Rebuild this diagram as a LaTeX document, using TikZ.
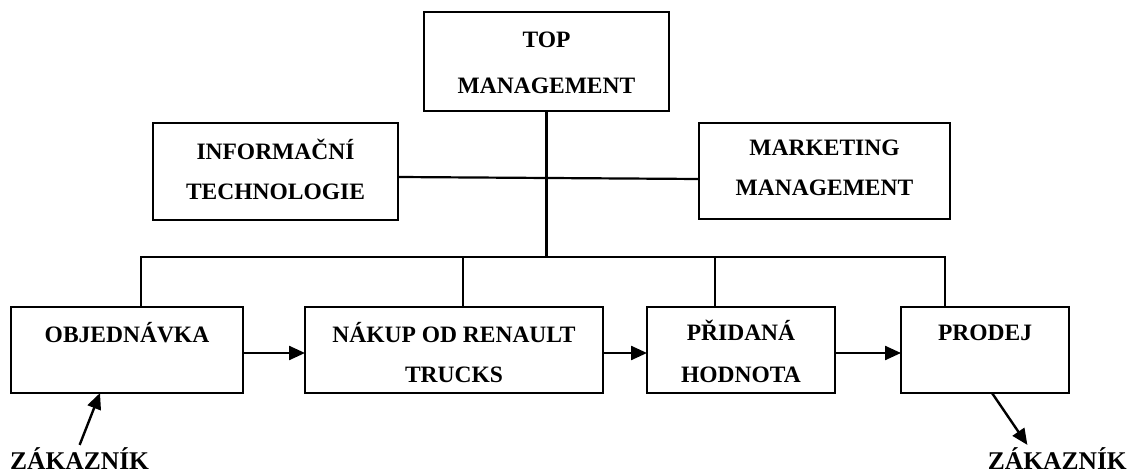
\documentclass[tikz,border=0pt]{standalone}
\usepackage{fontspec}
\setmainfont{Liberation Serif}
\usetikzlibrary{arrows.meta,calc}

\begin{document}
\begin{tikzpicture}[x=1pt,y=-1pt,
  box/.style={draw,line width=2.4pt,inner sep=0pt,outer sep=0pt},
  txt/.style={anchor=base,inner sep=0pt,font=\bfseries\fontsize{23.5}{23.5}\selectfont},
  cust/.style={inner sep=0pt,font=\bfseries\fontsize{25.5}{25.5}\selectfont},
  link/.style={line width=2.2pt},
  arr/.style={line width=2.4pt,-{Triangle[length=16pt,width=14pt]}}]
\useasboundingbox (0,0) rectangle (1128,473);

% management level
\node[box,minimum width=245pt,minimum height=99pt] (top) at (546.5,61.5) {};
\node[box,minimum width=245pt,minimum height=97pt] (it)  at (275.5,171.5) {};
\node[box,minimum width=251pt,minimum height=96pt] (mkt) at (824.5,171) {};

\node[txt] (topa) at ($(top.north)+(0,36)$) {TOP};
\node[txt] (topb) at ($(top.north)+(0,82)$) {MANAGEMENT};
\node[txt] (ita)  at ($(it.north)+(0,37)$) {INFORMAČNÍ};
\node[txt] (itb)  at ($(it.north)+(0,77)$) {TECHNOLOGIE};
\node[txt] (mkta) at ($(mkt.north)+(0,33)$) {MARKETING};
\node[txt] (mktb) at ($(mkt.north)+(0,73)$) {MANAGEMENT};

% process chain
\node[box,minimum width=232pt,minimum height=86pt] (obj)  at (127,350) {};
\node[box,minimum width=298pt,minimum height=86pt] (nak)  at (454,350) {};
\node[box,minimum width=188pt,minimum height=86pt] (prid) at (741,350) {};
\node[box,minimum width=168pt,minimum height=86pt] (prod) at (985,350) {};

\node[txt] (obja)  at ($(obj.north)+(0,35)$) {OBJEDNÁVKA};
\node[txt] (naka)  at ($(nak.north)+(0,35)$) {NÁKUP OD RENAULT};
\node[txt] (nakb)  at ($(nak.north)+(0,75)$) {TRUCKS};
\node[txt] (prida) at ($(prid.north)+(0,34)$) {PŘIDANÁ};
\node[txt] (pridb) at ($(prid.north)+(0,75)$) {HODNOTA};
\node[txt] (proda) at ($(prod.north)+(0,34)$) {PRODEJ};

% customers
\node[cust,anchor=base west] (zl) at (10,469) {ZÁKAZNÍK};
\node[cust,anchor=base east] (zr) at (1127,469) {ZÁKAZNÍK};

% tree connectors
\coordinate (bus) at (547,257);
\coordinate (dobj)  at ([xshift=14pt]obj.north);
\coordinate (dnak)  at ([xshift=9pt]nak.north);
\coordinate (dprid) at ([xshift=-26pt]prid.north);
\coordinate (dprod) at ([xshift=-40pt]prod.north);

\draw[link] (top.south) -- (top.south |- bus);
\draw[link] ([yshift=-5.5pt]it.east) -- ([yshift=-8pt]mkt.west);
\draw[link] (dobj) -- (dobj |- bus) -- (dprod |- bus) -- (dprod);
\draw[link] (dnak) -- (dnak |- bus);
\draw[link] (dprid) -- (dprid |- bus);

% flow arrows
\draw[arr] ([yshift=-3pt]obj.east) -- ([yshift=-3pt]nak.west);
\draw[arr] ([yshift=-3pt]nak.east) -- ([yshift=-3pt]prid.west);
\draw[arr] ([yshift=-3pt]prid.east) -- ([yshift=-3pt]prod.west);
\draw[arr] ([yshift=2pt]zl.north) -- ([xshift=-27pt]obj.south);
\draw[arr] ([xshift=7pt]prod.south) -- ([xshift=-30pt,yshift=2pt]zr.north);
\end{tikzpicture}
\end{document}
